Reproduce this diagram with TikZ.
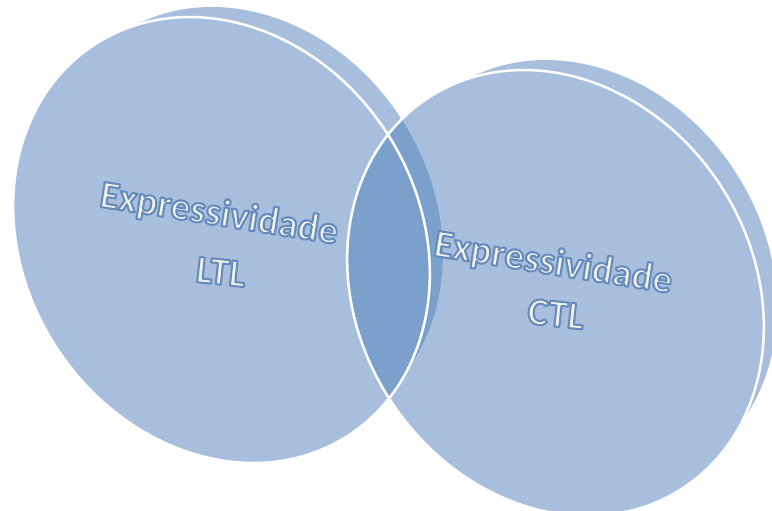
\documentclass[tikz,border=0pt]{standalone}
\usepackage{fontspec}
\setmainfont{Carlito}
\definecolor{vennfill}{HTML}{A7BFDD}
\definecolor{venndark}{HTML}{7BA0CB}
\definecolor{textfill}{HTML}{F4F2E4}
\tikzstyle{vennlabel}=[font=\fontsize{39}{40}\bfseries\selectfont, text=textfill, inner sep=0pt]
\tikzstyle{vennrim}=[white, line width=2.5pt]
% stroked letters: fill in the text colour, rim in blue
\newcommand{\rimtext}[1]{\special{pdf:literal direct q 2 Tr 2.1 w 1 j 0.40 0.55 0.75 RG}#1\special{pdf:literal direct Q}}

\begin{document}
\begin{tikzpicture}[x=1pt,y=-1pt]
    \useasboundingbox (0,0) rectangle (772,511);
    \coordinate (L) at (221.5,240);
    \coordinate (C) at (555.5,293);

    % back and front discs (shift given in the turned frame)
    \foreach \ctr in {L,C}{
        \fill[vennfill, rotate around={33:(\ctr)}] ([shift={(28.8,-3.95)}]\ctr) ellipse (188 and 224);
        \fill[vennfill, rotate around={33:(\ctr)}] (\ctr) ellipse (197 and 233);
    }

    % overlap
    \begin{scope}
        \clip[rotate around={33:(L)}] ([shift={(28.8,-3.95)}]L) ellipse (188 and 224) (L) ellipse (197 and 233);
        \fill[venndark, rotate around={33:(C)}] ([shift={(28.8,-3.95)}]C) ellipse (188 and 224) (C) ellipse (197 and 233);
    \end{scope}

    \draw[vennrim, rotate around={33:(L)}] (L) ellipse (197 and 233);
    \draw[vennrim, rotate around={33:(C)}] (C) ellipse (197 and 233);

    \node[vennlabel, rotate=-9] (ltlexpr) at (219,215) {\rimtext{Expressividade}};
    \node[vennlabel, rotate=-6] (ltlname) at (221,272) {\rimtext{LTL}};
    \node[vennlabel, rotate=-9] (ctlexpr) at (553,264) {\rimtext{Expressividade}};
    \node[vennlabel, rotate=-6] (ctlname) at (556,314) {\rimtext{CTL}};
\end{tikzpicture}
\end{document}
